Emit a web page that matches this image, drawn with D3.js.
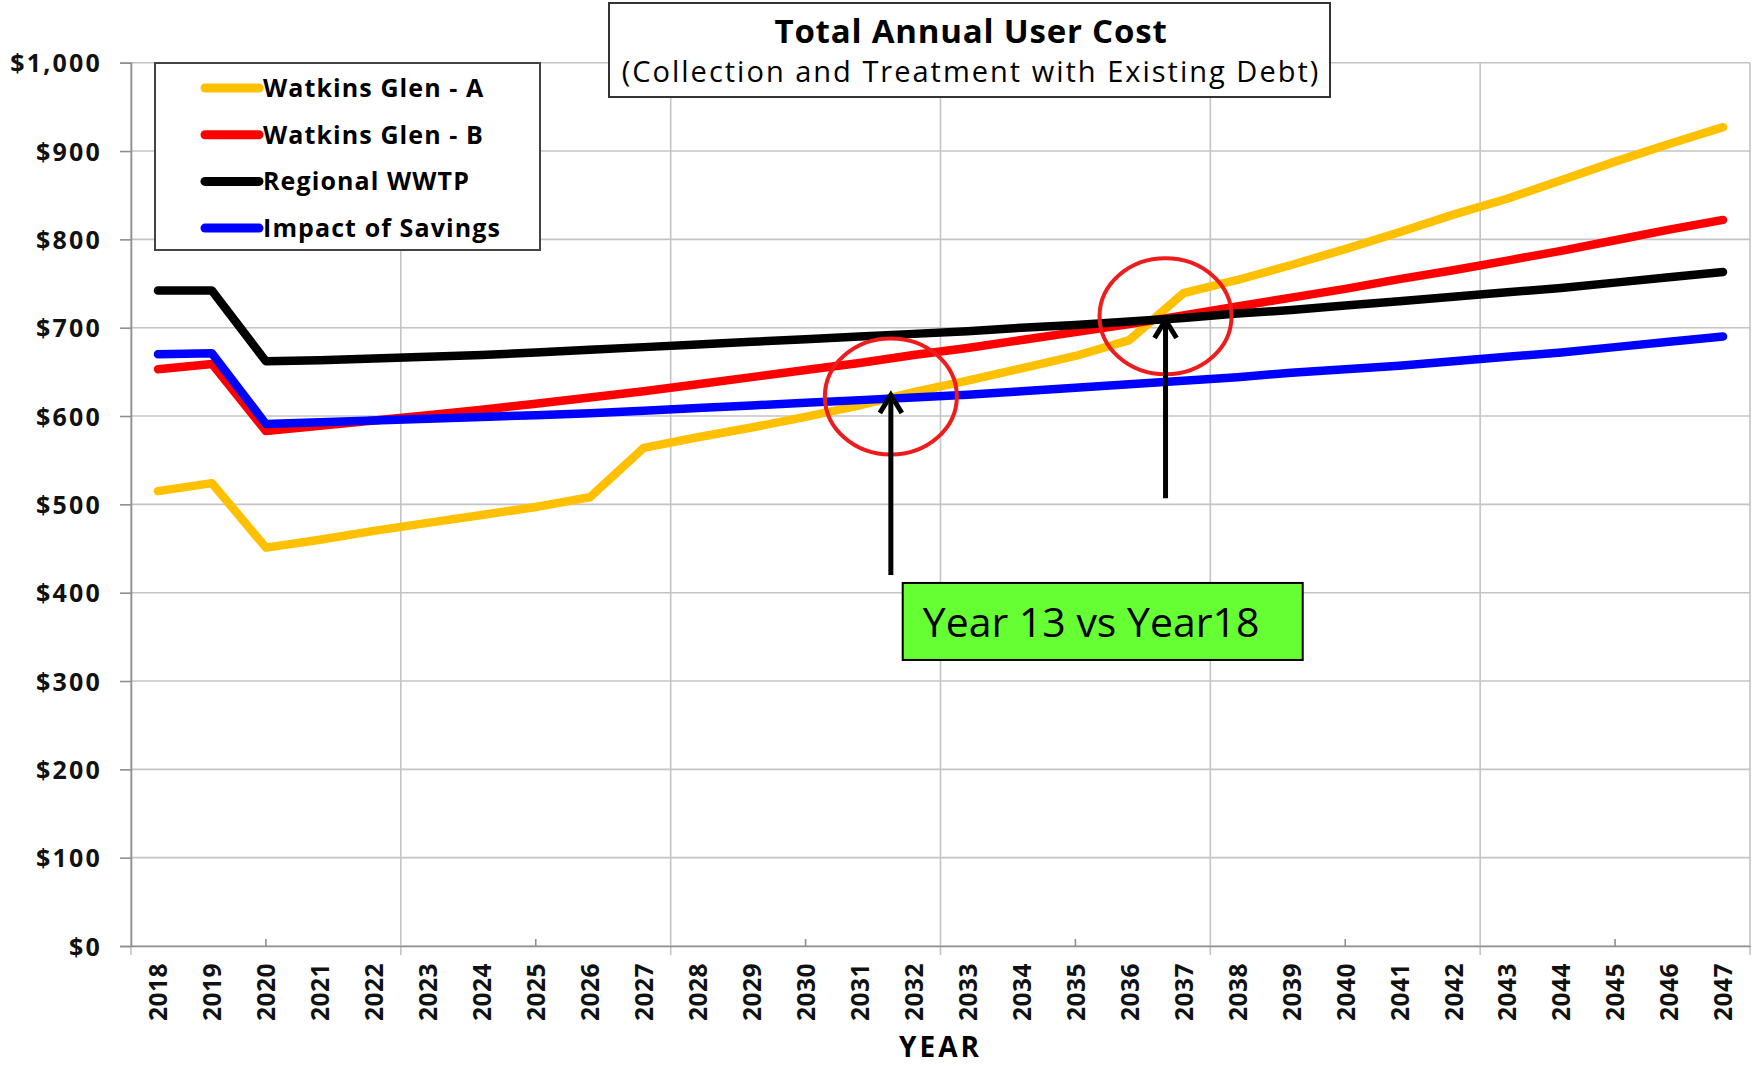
<!DOCTYPE html>
<meta charset="utf-8">
<style>
body { margin: 0; background: #fff; font-family: "Open Sans", sans-serif; }
.grid line { stroke: #c4c4c4; stroke-width: 1.6; }
.axis text { font-family: "Open Sans", sans-serif; font-weight: 700; fill: #111; }
.axis line, .axis path { stroke: #8f8f8f; stroke-width: 1.6; }
.series { fill: none; stroke-width: 8.5; stroke-linejoin: round; stroke-linecap: round; }
</style>
<body>
<div id="chart"></div>
<script src="https://d3js.org/d3.v7.min.js"></script>
<script>

// categories
var years = [2018, 2019, 2020, 2021, 2022, 2023, 2024, 2025, 2026, 2027,
             2028, 2029, 2030, 2031, 2032, 2033, 2034, 2035, 2036, 2037,
             2038, 2039, 2040, 2041, 2042, 2043, 2044, 2045, 2046, 2047];

// series values ($ per year)
var glenA = [515, 524, 451, 460, 470, 479, 488, 497, 508, 564,
             576, 587, 599, 612, 627, 640, 654, 668, 686, 739,
             754, 771, 789, 808, 828, 846, 867, 888, 908, 927];
var glenB = [653, 659, 583, 589, 595, 601, 607, 614, 621, 628,
             636, 644, 652, 660, 669, 677, 686, 695, 704, 714,
             724, 734, 744, 755, 765, 776, 787, 799, 811, 822];
var regional = [742, 742, 662, 663, 665, 667, 669, 672, 675, 678,
                681, 684, 687, 690, 693, 696, 700, 703, 707, 711,
                716, 720, 725, 730, 735, 740, 745, 751, 757, 763];
var savings = [670, 671, 591, 593, 595, 597, 599, 601, 603, 606,
               609, 612, 615, 618, 621, 624, 628, 632, 636, 640,
               644, 649, 653, 657, 662, 667, 672, 678, 684, 690];

var seriesNames = ["Watkins Glen - A", "Watkins Glen - B", "Regional WWTP", "Impact of Savings"];
var seriesColors = ["#ffc000", "#ff0000", "#000000", "#0000ff"];

// tick labels
var yTicks = [0, 100, 200, 300, 400, 500, 600, 700, 800, 900, 1000];
var gridYears = [2017.5, 2022.5, 2027.5, 2032.5, 2037.5, 2042.5, 2047.5];
var minorYears = [2020, 2025, 2030, 2035, 2040, 2045];

// annotations (year position, value)
var circleYears = [2031.58, 2036.67];
var circleValues = [622, 713];
var arrowFrom = [420, 507];
var arrowTo = [626, 711];
var calloutText = "Year 13 vs Year18";

var width = 1758, height = 1066;

var svg = d3.select("#chart").append("svg")
    .attr("width", width)
    .attr("height", height);

var x = d3.scaleLinear().domain([2017.5, 2047.5]).range([131, 1750]);
var y = d3.scaleLinear().domain([0, 1000]).range([946, 62.7]);

// horizontal grid
svg.append("g").attr("class", "grid")
  .selectAll("line").data(yTicks).join("line")
    .attr("x1", x(2017.5)).attr("x2", x(2047.5))
    .attr("y1", d => y(d)).attr("y2", d => y(d));

// vertical grid (every 5 years, extends below the axis)
svg.append("g").attr("class", "grid")
  .selectAll("line").data(gridYears).join("line")
    .attr("x1", d => x(d)).attr("x2", d => x(d))
    .attr("y1", y(1000)).attr("y2", y(0) + 9);

// y axis
var yAxis = svg.append("g").attr("class", "axis")
    .attr("transform", `translate(${x(2017.5)},0)`)
    .call(d3.axisLeft(y).tickValues(yTicks).tickSize(11).tickPadding(18)
      .tickFormat(d => "$" + d3.format(",")(d)));
yAxis.selectAll("text")
    .style("font-size", "25px")
    .style("letter-spacing", "2.2px")
    .attr("dy", "0.36em");

// x axis
var xAxis = svg.append("g").attr("class", "axis")
    .attr("transform", `translate(0,${y(0)})`)
    .call(d3.axisBottom(x).tickValues(years).tickSize(0).tickSizeOuter(0).tickFormat(d3.format("d")));
xAxis.selectAll("text")
    .style("font-size", "24.5px")
    .style("letter-spacing", "0.5px")
    .attr("text-anchor", "end")
    .attr("transform", "rotate(-90)")
    .attr("x", -17).attr("y", 0).attr("dy", "0.36em");

svg.append("g").attr("class", "axis")
  .selectAll("line").data(minorYears).join("line")
    .attr("x1", d => x(d)).attr("x2", d => x(d))
    .attr("y1", y(0)).attr("y2", y(0) - 7);

svg.append("text")
    .attr("x", x(2032.5)).attr("y", 1057)
    .attr("text-anchor", "middle")
    .style("font-size", "28px").style("font-weight", 700)
    .style("letter-spacing", "3px")
    .text("YEAR");

// series lines
var allSeries = [glenA, glenB, regional, savings];
var line = d3.line().x((d, i) => x(years[i])).y(d => y(d));

svg.append("g").selectAll("path").data(allSeries).join("path")
    .attr("class", "series")
    .attr("stroke", (d, i) => seriesColors[i])
    .attr("d", line);

// title box
var title = svg.append("g");
title.append("rect")
    .attr("x", 609).attr("y", 3).attr("width", 721).attr("height", 94)
    .attr("fill", "#fff").attr("stroke", "#333").attr("stroke-width", 2);
title.append("text")
    .attr("x", 971).attr("y", 43).attr("text-anchor", "middle")
    .style("font-size", "33px").style("font-weight", 700)
    .style("letter-spacing", "0.8px")
    .text("Total Annual User Cost");
title.append("text")
    .attr("x", 971).attr("y", 82).attr("text-anchor", "middle")
    .style("font-size", "29px")
    .style("letter-spacing", "2px")
    .text("(Collection and Treatment with Existing Debt)");

// legend
var legend = svg.append("g").attr("transform", "translate(155,63)");
legend.append("rect")
    .attr("width", 385).attr("height", 187)
    .attr("fill", "#fff").attr("stroke", "#444").attr("stroke-width", 2);
var rows = legend.selectAll("g.row").data(seriesNames).join("g")
    .attr("class", "row")
    .attr("transform", (d, i) => `translate(0,${25 + i * 46.7})`);
rows.append("line")
    .attr("x1", 50).attr("x2", 104)
    .attr("stroke", (d, i) => seriesColors[i])
    .attr("stroke-width", 9).attr("stroke-linecap", "round");
rows.append("text")
    .attr("x", 108).attr("dy", "0.36em")
    .style("font-size", "25px").style("font-weight", 700)
    .style("letter-spacing", "1.1px")
    .text(d => d);

// annotations
var notes = svg.append("g");
notes.selectAll("ellipse").data(circleYears).join("ellipse")
    .attr("cx", d => x(d))
    .attr("cy", (d, i) => y(circleValues[i]))
    .attr("rx", 66).attr("ry", 58)
    .attr("fill", "none").attr("stroke", "#ee1c1c").attr("stroke-width", 4);

var arrows = notes.selectAll("g.arrow").data(circleYears).join("g")
    .attr("class", "arrow")
    .attr("transform", (d, i) => `translate(${x(d)},0)`);
arrows.append("line")
    .attr("y1", (d, i) => y(arrowFrom[i]))
    .attr("y2", (d, i) => y(arrowTo[i]) + 2)
    .attr("stroke", "#000").attr("stroke-width", 5);
arrows.append("path")
    .attr("d", (d, i) => {
      var t = y(arrowTo[i]);
      return `M-11,${t + 20}L0,${t + 2}L11,${t + 20}`;
    })
    .attr("fill", "none").attr("stroke", "#000").attr("stroke-width", 5)
    .attr("stroke-linejoin", "miter");

var callout = notes.append("g")
    .attr("transform", `translate(${x(2031.8)},${y(411)})`);
callout.append("rect")
    .attr("width", 400).attr("height", 77)
    .attr("fill", "#66ff33").attr("stroke", "#000").attr("stroke-width", 2);
callout.append("text")
    .attr("x", 20).attr("y", 54)
    .style("font-size", "41px")
    .text(calloutText);

</script>
</body>
